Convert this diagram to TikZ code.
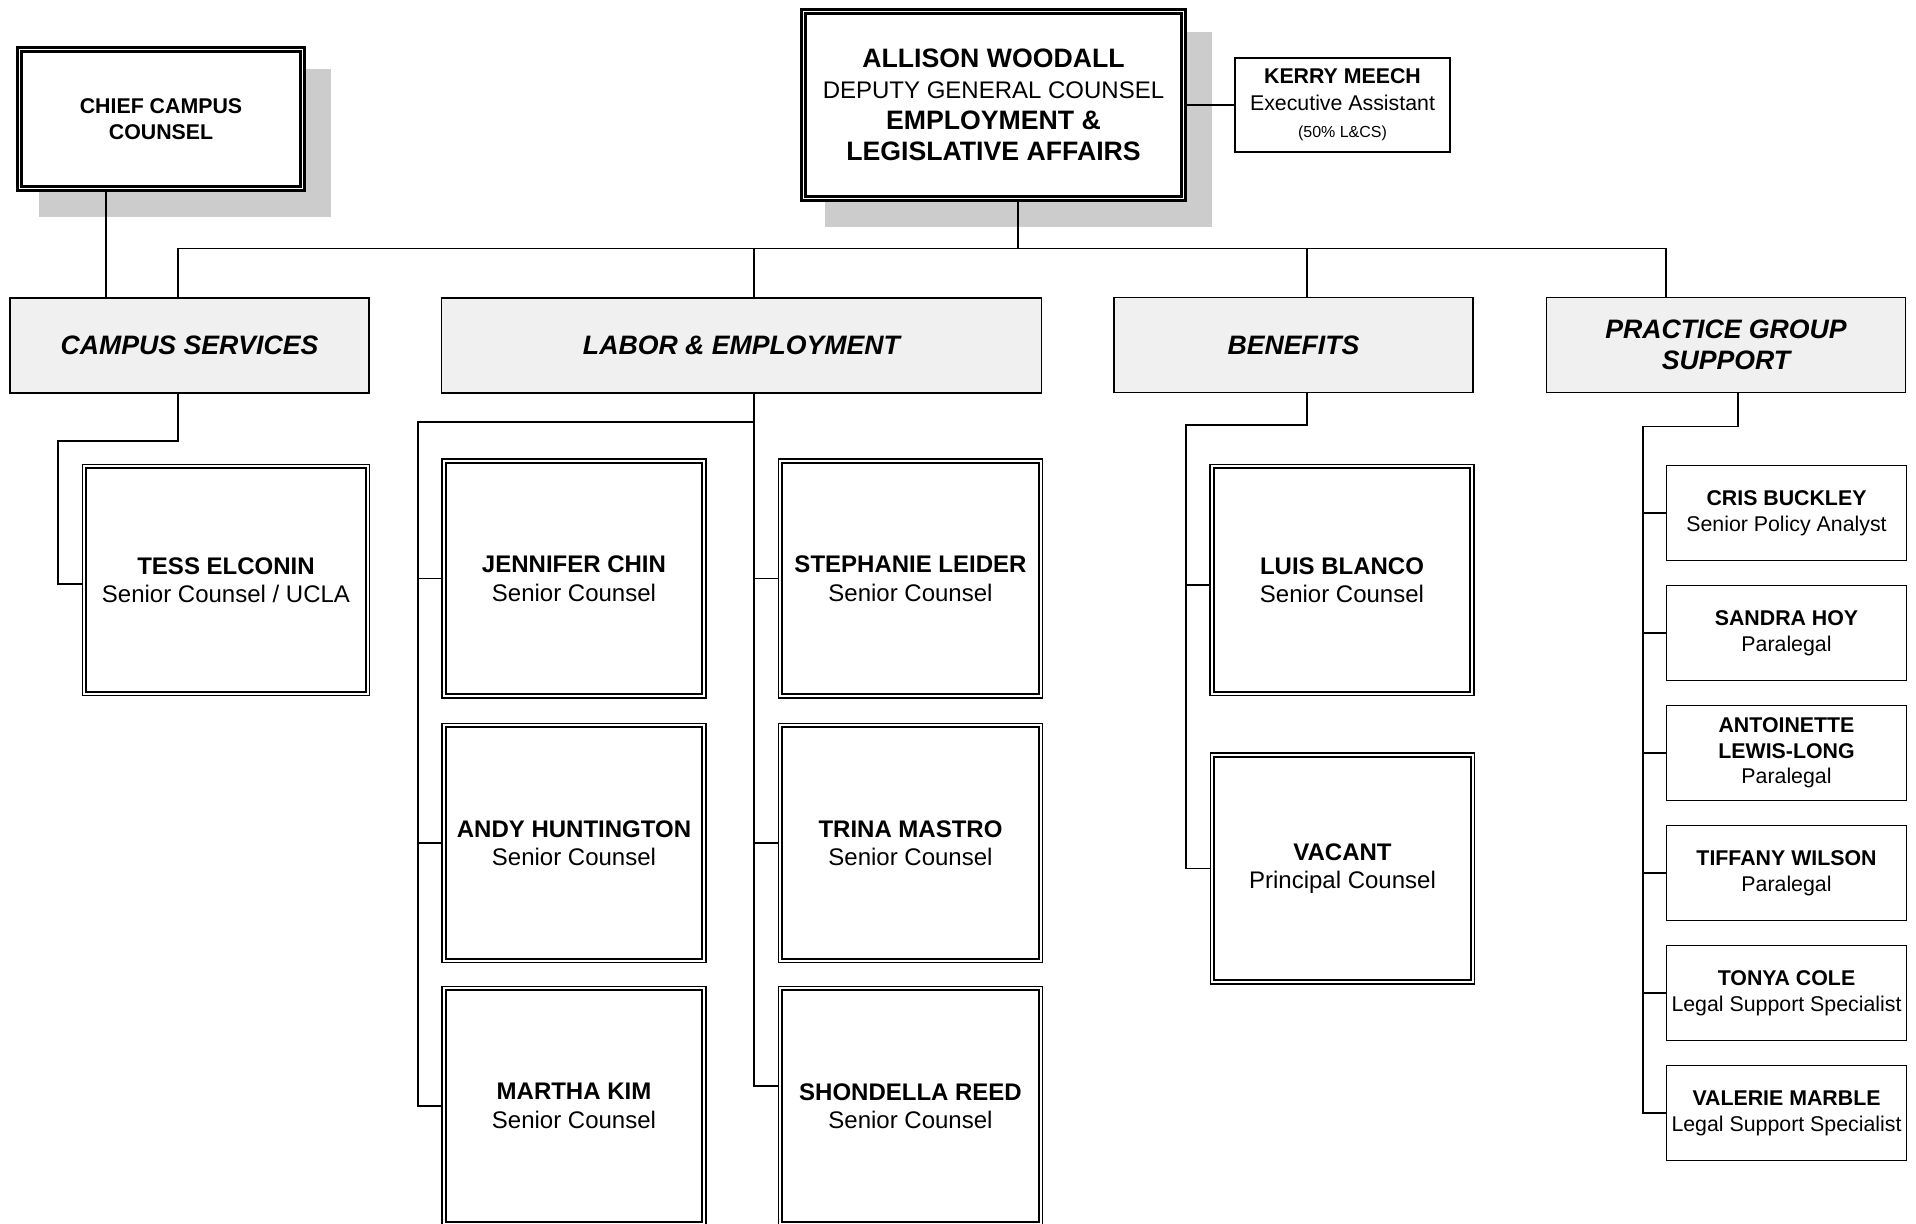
\documentclass[tikz,border=0pt]{standalone}
\usepackage{fontspec}
\setmainfont{Liberation Sans}
\usetikzlibrary{calc}
\definecolor{shadowgray}{RGB}{204,204,204}
\definecolor{headfill}{RGB}{240,240,240}
\newcommand\fhead{\fontsize{26.67}{31.5}\selectfont\bfseries\itshape}
\newcommand\fbig{\fontsize{24}{28.5}\selectfont}
\newcommand\fsmall{\fontsize{21.33}{26}\selectfont}
\newcommand\fchief{\fontsize{21.33}{26}\selectfont\bfseries}
\newcommand\fallison{\fontsize{26.67}{31}\selectfont}
\newcommand\fkerry{\fontsize{21.33}{27}\selectfont}
\tikzset{
  conn/.style={line width=1.7pt, draw=black},
  topbox/.style={draw, line width=2.6pt, fill=white, inner sep=0pt, align=center},
  toprim/.style={line width=2.6pt},
  plainbox/.style={draw, line width=1.4pt, fill=white, inner sep=0pt, align=center},
  headbox/.style={draw, line width=1.5pt, fill=headfill, inner sep=0pt, align=center,
    minimum width=359pt, minimum height=95pt, font=\fhead},
  bigbox/.style={draw, line width=1.2pt, fill=white, inner sep=0pt, align=center,
    minimum width=264pt, minimum height=239pt, font=\fbig},
  bigrim/.style={line width=2pt},
  smallbox/.style={draw, line width=1.4pt, fill=white, inner sep=0pt, align=center,
    minimum width=240pt, minimum height=95pt, font=\fsmall},
  shadowbox/.style={fill=shadowgray, draw=none}
}
\begin{document}
\begin{tikzpicture}[x=1pt, y=-1pt]
\useasboundingbox (0,0) rectangle (1916,1223);
\clip (0,0) rectangle (1916,1223);
\fill[white] (0,0) rectangle (1916,1223);

% shadows
\fill[shadowbox] (39,69) rectangle (331,217);
\fill[shadowbox] (825,32) rectangle (1212,227);

% top level
\node[topbox, minimum width=287pt, minimum height=143pt, font=\fchief] (chief) at (161,119)
  {CHIEF CAMPUS\\COUNSEL};
\node[topbox, minimum width=384pt, minimum height=191pt, font=\fallison] (allison) at (993.5,105)
  {{\bfseries ALLISON WOODALL}\\{\fontsize{24}{28}\selectfont DEPUTY GENERAL COUNSEL}\\{\bfseries EMPLOYMENT \&}\\{\bfseries LEGISLATIVE AFFAIRS}};
\node[plainbox, minimum width=215pt, minimum height=94pt, font=\fkerry] (kerry) at (1342.5,105)
  {{\bfseries KERRY MEECH}\\Executive Assistant\\{\fontsize{16}{18}\selectfont (50\% L\&CS)}};
\foreach \n in {chief,allison}
  \draw[toprim] ([shift={(5.3,5.3)}]\n.north west) rectangle ([shift={(-5.3,-5.3)}]\n.south east);

% headers
\node[headbox] (campus) at (189.5,345.5) {CAMPUS SERVICES};
\node[headbox, minimum width=600pt] (labor) at (741.5,345.5) {LABOR \& EMPLOYMENT};
\node[headbox] (benefits) at (1293.5,345) {BENEFITS};
\node[headbox] (practice) at (1726,345) {PRACTICE GROUP\\SUPPORT};

% large boxes
\node[bigbox, minimum width=287pt, minimum height=231pt] (tess) at (226,580)
  {\textbf{TESS ELCONIN}\\Senior Counsel / UCLA};
\node[bigbox] (chin) at (574,578.5) {\textbf{JENNIFER CHIN}\\Senior Counsel};
\node[bigbox] (huntington) at (574,843) {\textbf{ANDY HUNTINGTON}\\Senior Counsel};
\node[bigbox] (kim) at (574,1106) {\textbf{MARTHA KIM}\\Senior Counsel};
\node[bigbox] (leider) at (910.5,578.5) {\textbf{STEPHANIE LEIDER}\\Senior Counsel};
\node[bigbox] (mastro) at (910.5,843) {\textbf{TRINA MASTRO}\\Senior Counsel};
\node[bigbox] (reed) at (910.5,1106) {\textbf{SHONDELLA REED}\\Senior Counsel};
\node[bigbox, minimum height=231pt] (blanco) at (1342,580) {\textbf{LUIS BLANCO}\\Senior Counsel};
\node[bigbox, minimum height=231pt] (vacant) at (1342.5,868.5) {\textbf{VACANT}\\Principal Counsel};
\foreach \n in {tess,chin,huntington,kim,leider,mastro,reed,blanco,vacant}
  \draw[bigrim] ([shift={(4.5,4.5)}]\n.north west) rectangle ([shift={(-4.5,-4.5)}]\n.south east);

% small boxes
\node[smallbox] (buckley) at (1786.5,513) {\textbf{CRIS BUCKLEY}\\Senior Policy Analyst};
\node[smallbox] (hoy) at (1786.5,633) {\textbf{SANDRA HOY}\\Paralegal};
\node[smallbox, font=\fontsize{21.33}{25.5}\selectfont] (lewislong) at (1786.5,753) {\textbf{ANTOINETTE}\\\textbf{LEWIS-LONG}\\Paralegal};
\node[smallbox] (wilson) at (1786.5,873) {\textbf{TIFFANY WILSON}\\Paralegal};
\node[smallbox] (cole) at (1786.5,993) {\textbf{TONYA COLE}\\Legal Support Specialist};
\node[smallbox] (marble) at (1786.5,1113) {\textbf{VALERIE MARBLE}\\Legal Support Specialist};

% connectors: top
\draw[conn] (allison.east) -- (kerry.west);
\draw[conn] (chief.south -| 106,0) -- (campus.north -| 106,0);
\draw[conn] (allison.south -| 1018,0) -- (1018,248.5);
\draw[conn] (campus.north -| 178,0) -- (178,248.5) -- (1666,248.5) -- (practice.north -| 1666,0);
\draw[conn] (754,248.5) -- (labor.north -| 754,0);
\draw[conn] (1307,248.5) -- (benefits.north -| 1307,0);

% campus services
\draw[conn] (campus.south -| 178,0) -- (178,441) -- (58,441) -- (58,584) -- (tess.west |- 0,584);

% labor & employment
\draw[conn] (labor.south -| 754,0) -- (754,1086) -- (reed.west |- 0,1086);
\draw[conn] (754,578.5) -- (leider.west);
\draw[conn] (754,843) -- (mastro.west);
\draw[conn] (754,422) -- (418,422) -- (418,1106) -- (kim.west);
\draw[conn] (418,578.5) -- (chin.west);
\draw[conn] (418,843) -- (huntington.west);

% benefits
\draw[conn] (benefits.south -| 1307,0) -- (1307,425) -- (1186,425) -- (1186,868.5) -- (vacant.west);
\draw[conn] (1186,585) -- (blanco.west |- 0,585);

% practice group support
\draw[conn] (practice.south -| 1738,0) -- (1738,426.5) -- (1643,426.5) -- (1643,1113) -- (marble.west);
\foreach \n in {buckley,hoy,lewislong,wilson,cole}
  \draw[conn] (\n.west -| 1643,0) -- (\n.west);
\end{tikzpicture}
\end{document}
